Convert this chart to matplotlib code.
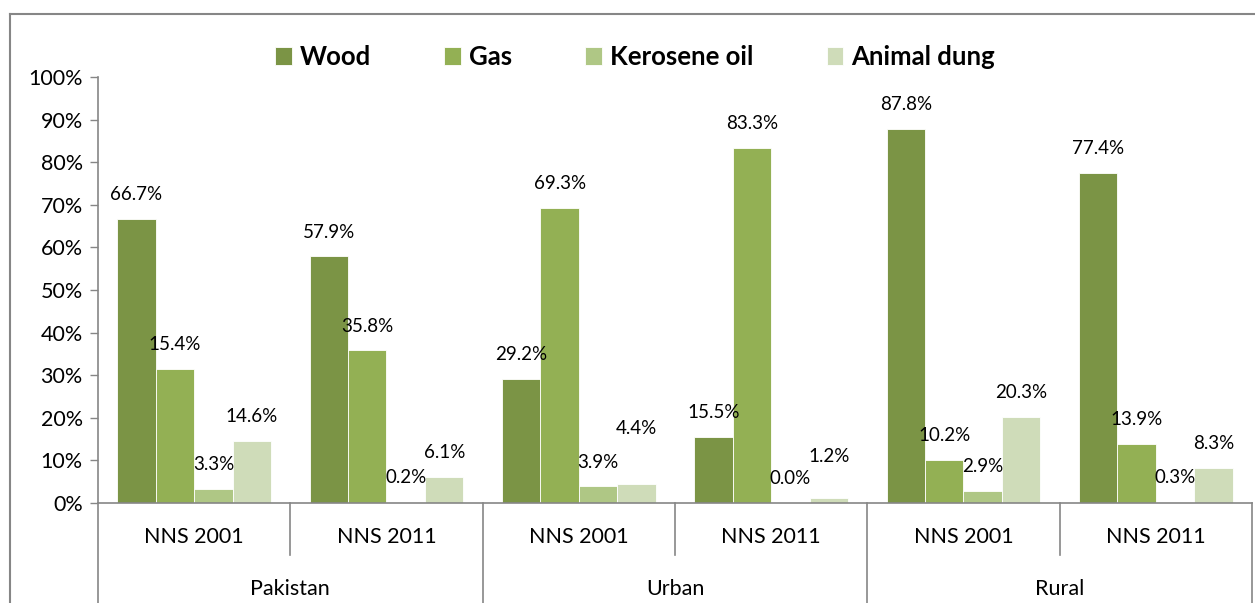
import matplotlib.pyplot as plt
from matplotlib.lines import Line2D
import matplotlib.transforms as mtransforms
import numpy as np

plt.rcParams['font.family'] = ['Lato', 'DejaVu Sans']

# data
groups = ["Pakistan", "Urban", "Rural"]
surveys = ["NNS 2001", "NNS 2011"]
fuels = ["Wood", "Gas", "Kerosene oil", "Animal dung"]
colors = ["#7b9445", "#93b054", "#afc785", "#cfdcb9"]

wood = [66.7, 57.9, 29.2, 15.5, 87.8, 77.4]
gas = [31.4, 35.8, 69.3, 83.3, 10.2, 13.9]
kerosene = [3.3, 0.2, 3.9, 0.0, 2.9, 0.3]
dung = [14.6, 6.1, 4.4, 1.2, 20.3, 8.3]

# labels as printed on the chart (gas label for Pakistan 2001 reads 15.4%)
wood_lbl = ["66.7%", "57.9%", "29.2%", "15.5%", "87.8%", "77.4%"]
gas_lbl = ["15.4%", "35.8%", "69.3%", "83.3%", "10.2%", "13.9%"]
kero_lbl = ["3.3%", "0.2%", "3.9%", "0.0%", "2.9%", "0.3%"]
dung_lbl = ["14.6%", "6.1%", "4.4%", "1.2%", "20.3%", "8.3%"]

series = [wood, gas, kerosene, dung]
labels = [wood_lbl, gas_lbl, kero_lbl, dung_lbl]

# a couple of labels were nudged up in the original to avoid overlap
lift = {(3, 2): 40, (3, 3): 30}

W, H = 1255, 603
fig = plt.figure(figsize=(W / 100, H / 100), dpi=100)
ax = fig.add_axes([98 / W, (H - 503) / H, (1252 - 98) / W, (503 - 77) / H])

x = np.arange(len(wood))
bw = 0.2
for i, (vals, lbls) in enumerate(zip(series, labels)):
    pos = x + (i - 1.5) * bw
    ax.bar(pos, vals, width=bw, color=colors[i], edgecolor='white', linewidth=0.6,
           label=fuels[i], zorder=2)
    for j, (px, v, t) in enumerate(zip(pos, vals, lbls)):
        dy = lift.get((i, j), 17.5)
        ax.annotate(t, (px, v), xytext=(0, dy), textcoords='offset points',
                    ha='center', va='center', fontsize=13.5, color='black')

ax.set_xlim(-0.5, len(wood) - 0.5)
ax.set_ylim(0, 100)
ax.set_yticks(np.arange(0, 101, 10))
ax.set_yticklabels([f"{v}%" for v in range(0, 101, 10)], fontsize=15.5)
ax.tick_params(axis='y', length=6, width=1, color='#868686', pad=5)
ax.set_xticks([])

for s in ['top', 'right']:
    ax.spines[s].set_visible(False)
for s in ['left', 'bottom']:
    ax.spines[s].set_color('#868686')
    ax.spines[s].set_linewidth(1.2)

# multi-level category axis
trans = mtransforms.blended_transform_factory(ax.transData, ax.transAxes)
axh = (503 - 77)
for k in range(len(wood) + 1):
    xs = k - 0.5
    bottom = -0.3 if k % 2 == 0 else -52 / axh
    ax.add_line(Line2D([xs, xs], [0, bottom], transform=trans, color='#868686',
                       linewidth=1.2, clip_on=False))

for k in range(len(wood)):
    ax.text(k, -34 / axh, surveys[k % 2], transform=trans, ha='center', va='center',
            fontsize=15.5)
for g, name in enumerate(groups):
    ax.text(2 * g + 0.5, -86 / axh, name, transform=trans, ha='center', va='center',
            fontsize=15.5)

# legend
leg = fig.legend(loc='center', bbox_to_anchor=(635 / W, (H - 57) / H), ncol=4,
                 frameon=False, prop={'size': 18.5, 'weight': 'bold'},
                 handlelength=0.66, handleheight=0.66, handletextpad=0.3,
                 columnspacing=2.85)

# outer chart frame
fig.add_artist(Line2D([10 / W, 10 / W], [0, (H - 14) / H], color='#868686', linewidth=1.5))
fig.add_artist(Line2D([10 / W, 1], [(H - 14) / H, (H - 14) / H], color='#868686', linewidth=1.5))

fig.savefig("out.png", dpi=100)
